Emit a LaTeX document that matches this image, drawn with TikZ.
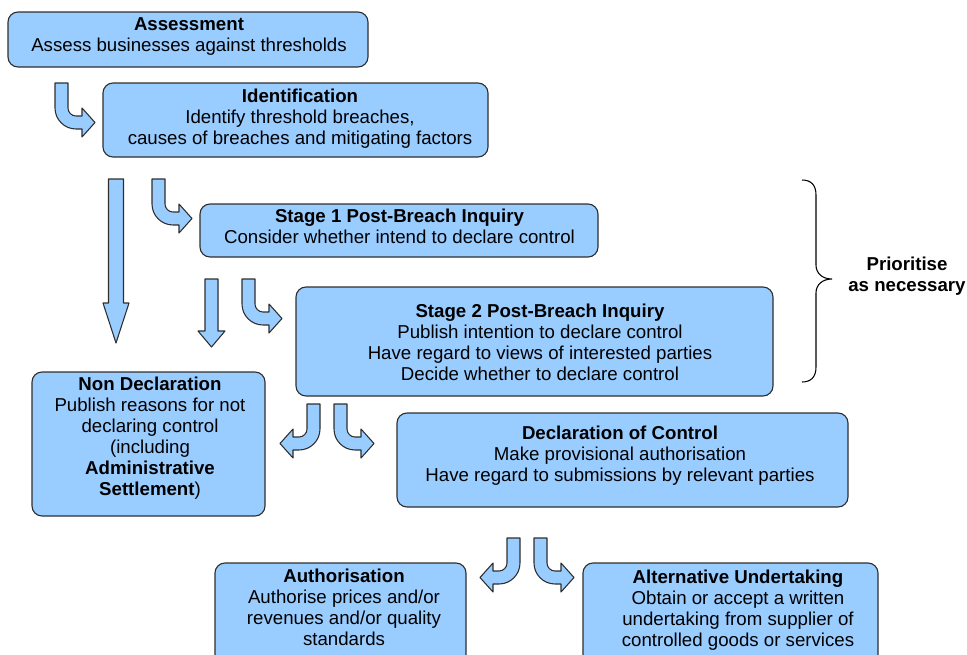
\documentclass[tikz,border=0pt]{standalone}
\usepackage{fontspec}
\setmainfont{Liberation Sans}
\usetikzlibrary{fit}
\definecolor{boxblue}{HTML}{99CCFF}
\definecolor{edgegray}{HTML}{2E2E2E}
\tikzset{
  box/.style={draw=edgegray, fill=boxblue, line width=0.85pt, rounded corners=7.5pt, inner sep=0pt},
  txt/.style={align=center, inner sep=0pt, font=\fontsize{14}{15.75}\selectfont, anchor=north},
  arr/.style={draw=edgegray, fill=boxblue, line width=0.8pt, line join=round},
  bracestyle/.style={draw=black, line width=0.8pt},
}
% #1 x of outer shaft edge, #2 top y, #3 direction (1 right, -1 left)
\newcommand{\bentarr}[3]{%
  \begin{scope}[shift={(#1,#2)}, xscale=#3]
    \draw[arr] (0,0) -- (13,0) -- (13,25) .. controls (13,29.4) and (16.6,33) .. (21,33)
      -- (27,33) -- (27,25) -- (40,39.5) -- (27,54) -- (27,46) -- (21,46)
      .. controls (9.4,46) and (0,36.6) .. (0,25) -- cycle;
  \end{scope}}
\begin{document}
\begin{tikzpicture}[x=0.75pt, y=-0.75pt]
\useasboundingbox (0,0) rectangle (967,654);
\clip (0,0) rectangle (967,654);

% boxes
\node[box, fit={(8,12) (368,67)}] (assess) {};
\node[box, fit={(103,83) (488,157)}] (ident) {};
\node[box, fit={(200,204) (598,257)}] (stage1) {};
\node[box, fit={(296,287) (773,396)}] (stage2) {};
\node[box, fit={(32,372) (265,516)}] (nondecl) {};
\node[box, fit={(397,413) (848,507)}] (decl) {};
\node[box, fit={(215,563) (466,690)}] (auth) {};
\node[box, fit={(583,563) (878,690)}] (alt) {};

% texts
\node[txt] (assessT) at (189,17) {\textbf{Assessment}\\Assess businesses against thresholds};
\node[txt] (identT) at (300,89) {\textbf{Identification}\\Identify threshold breaches,\\causes of breaches and mitigating factors};
\node[txt] (stage1T) at (399.5,209) {\textbf{Stage 1 Post-Breach Inquiry}\\Consider whether intend to declare control};
\node[txt] (stage2T) at (540,304) {\textbf{Stage 2 Post-Breach Inquiry}\\Publish intention to declare control\\Have regard to views of interested parties\\Decide whether to declare control};
\node[txt] (nondeclT) at (150,377) {\textbf{Non Declaration}\\Publish reasons for not\\declaring control\\(including\\\textbf{Administrative}\\\textbf{Settlement})};
\node[txt] (declT) at (620,426) {\textbf{Declaration of Control}\\Make provisional authorisation\\Have regard to submissions by relevant parties};
\node[txt] (authT) at (344,569) {\textbf{Authorisation}\\Authorise prices and/or\\revenues and/or quality\\standards};
\node[txt] (altT) at (738,570) {\textbf{Alternative Undertaking}\\Obtain or accept a written\\undertaking from supplier of\\controlled goods or services};
\node[txt] (prioT) at (907,257) {\textbf{Prioritise}\\\textbf{as necessary}};

% bent block arrows
\bentarr{55}{83}{1}
\bentarr{152}{179}{1}
\bentarr{242}{279}{1}
\bentarr{320}{404}{-1}
\bentarr{334}{404}{1}
\bentarr{520}{538}{-1}
\bentarr{534}{538}{1}

% straight block arrows
\draw[arr] (108.5,179) -- (123.5,179) -- (123.5,303) -- (129,303) -- (116,343) -- (103,303) -- (108.5,303) -- cycle;
\draw[arr] (205,279) -- (218,279) -- (218,331) -- (225,331) -- (211.5,347) -- (198,331) -- (205,331) -- cycle;

% brace
\coordinate (bt) at (802,180);
\coordinate (bm) at (832,279);
\coordinate (bb) at (802,382);
\draw[bracestyle] (bt) .. controls (811,180) and (816,185) .. (816,195) -- (816,265)
  .. controls (816,273) and (822,279) .. (bm)
  .. controls (822,279) and (816,285) .. (816,293) -- (816,367)
  .. controls (816,377) and (811,382) .. (bb);
\end{tikzpicture}
\end{document}
